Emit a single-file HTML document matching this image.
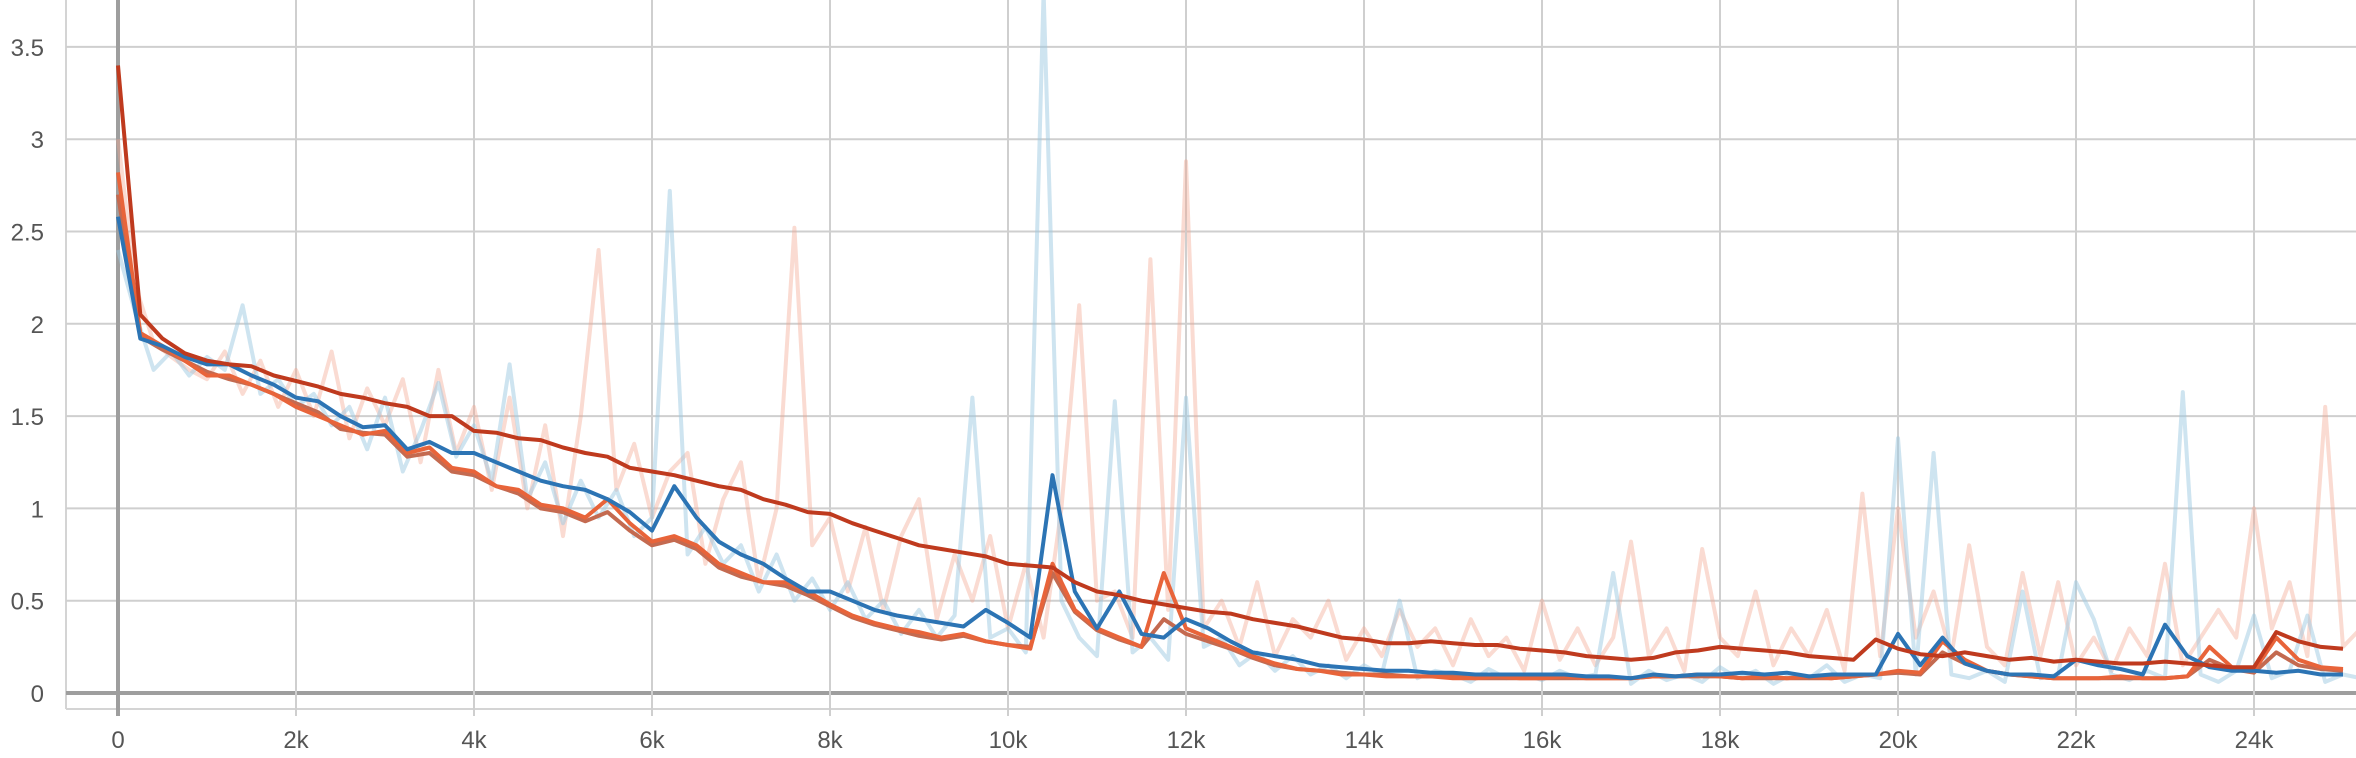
<!DOCTYPE html>
<html><head><meta charset="utf-8">
<style>
html,body{margin:0;padding:0;background:#fff;}
svg{display:block;}
text{font-family:"Liberation Sans",sans-serif;font-size:24px;fill:#555;}
</style></head>
<body>
<svg id="chart" width="2356" height="758" viewBox="0 0 2356 758">
<defs><clipPath id="clip"><rect x="66" y="0" width="2290" height="709"/></clipPath></defs>
<g id="grid"></g>
<g id="ticks"></g>
<g id="series" clip-path="url(#clip)"></g>
</svg>
<script>
const xTicks = [0,2000,4000,6000,8000,10000,12000,14000,16000,18000,20000,22000,24000];
const xTickLabels = ["0","2k","4k","6k","8k","10k","12k","14k","16k","18k","20k","22k","24k"];
const yTicks = [0,0.5,1,1.5,2,2.5,3,3.5];
const yTickLabels = ["0","0.5","1","1.5","2","2.5","3","3.5"];
const smoothStep = 250;
const rawStep = 200;
const darkRed = [3.40,2.05,1.92,1.84,1.80,1.78,1.77,1.72,1.69,1.66,1.62,1.60,1.57,1.55,1.50,1.50,1.42,1.41,1.38,1.37,1.33,1.30,1.28,1.22,1.20,1.18,1.15,1.12,1.10,1.05,1.02,0.98,0.97,0.92,0.88,0.84,0.80,0.78,0.76,0.74,0.70,0.69,0.68,0.60,0.55,0.53,0.50,0.48,0.46,0.44,0.43,0.40,0.38,0.36,0.33,0.30,0.29,0.27,0.27,0.28,0.27,0.26,0.26,0.24,0.23,0.22,0.20,0.19,0.18,0.19,0.22,0.23,0.25,0.24,0.23,0.22,0.20,0.19,0.18,0.29,0.24,0.21,0.20,0.22,0.20,0.18,0.19,0.17,0.18,0.17,0.16,0.16,0.17,0.16,0.15,0.14,0.14,0.33,0.28,0.25,0.24];
const blue = [2.58,1.92,1.88,1.82,1.78,1.78,1.72,1.67,1.60,1.58,1.50,1.44,1.45,1.32,1.36,1.30,1.30,1.25,1.20,1.15,1.12,1.10,1.05,0.98,0.88,1.12,0.95,0.82,0.75,0.70,0.62,0.55,0.55,0.50,0.45,0.42,0.40,0.38,0.36,0.45,0.38,0.30,1.18,0.55,0.35,0.55,0.32,0.30,0.40,0.35,0.28,0.22,0.20,0.18,0.15,0.14,0.13,0.12,0.12,0.11,0.11,0.10,0.10,0.10,0.10,0.10,0.09,0.09,0.08,0.10,0.09,0.10,0.10,0.11,0.10,0.11,0.09,0.10,0.10,0.10,0.32,0.15,0.30,0.16,0.12,0.10,0.10,0.09,0.18,0.15,0.13,0.10,0.37,0.20,0.14,0.12,0.12,0.11,0.12,0.10,0.10];
const orange = [2.82,1.95,1.88,1.80,1.72,1.72,1.67,1.62,1.55,1.50,1.45,1.40,1.42,1.30,1.33,1.22,1.20,1.12,1.10,1.02,1.00,0.95,1.05,0.92,0.82,0.85,0.80,0.70,0.65,0.60,0.60,0.55,0.48,0.42,0.38,0.35,0.33,0.30,0.32,0.28,0.26,0.24,0.70,0.45,0.35,0.30,0.25,0.65,0.35,0.30,0.25,0.20,0.16,0.13,0.12,0.10,0.10,0.09,0.09,0.09,0.08,0.08,0.09,0.08,0.08,0.09,0.08,0.08,0.08,0.09,0.09,0.10,0.09,0.08,0.09,0.08,0.09,0.08,0.09,0.10,0.12,0.11,0.28,0.18,0.12,0.10,0.09,0.08,0.08,0.08,0.09,0.08,0.08,0.09,0.25,0.14,0.12,0.30,0.18,0.14,0.13];
const brown = [2.70,1.93,1.86,1.80,1.74,1.70,1.67,1.62,1.57,1.52,1.43,1.41,1.40,1.28,1.30,1.20,1.18,1.12,1.08,1.00,0.98,0.93,0.98,0.88,0.80,0.83,0.78,0.68,0.63,0.60,0.58,0.53,0.47,0.41,0.37,0.34,0.31,0.29,0.31,0.28,0.26,0.25,0.65,0.44,0.34,0.29,0.25,0.40,0.32,0.28,0.24,0.19,0.15,0.13,0.12,0.11,0.10,0.10,0.09,0.09,0.09,0.08,0.08,0.08,0.08,0.08,0.08,0.08,0.08,0.09,0.09,0.09,0.09,0.08,0.08,0.08,0.08,0.08,0.09,0.10,0.11,0.10,0.22,0.16,0.12,0.10,0.09,0.08,0.08,0.08,0.08,0.08,0.08,0.09,0.18,0.13,0.11,0.22,0.15,0.13,0.12];
const rawBlue = [2.4,2.05,1.75,1.85,1.72,1.82,1.75,2.1,1.62,1.7,1.55,1.62,1.45,1.55,1.32,1.6,1.2,1.42,1.68,1.28,1.45,1.15,1.78,1.05,1.25,0.92,1.15,0.95,1.1,0.85,0.95,2.72,0.75,0.9,0.7,0.8,0.55,0.75,0.5,0.62,0.45,0.6,0.4,0.5,0.32,0.45,0.3,0.42,1.6,0.3,0.35,0.22,3.8,0.5,0.3,0.2,1.58,0.22,0.3,0.18,1.6,0.25,0.3,0.15,0.22,0.12,0.2,0.1,0.15,0.08,0.15,0.1,0.5,0.08,0.12,0.1,0.06,0.13,0.08,0.1,0.07,0.12,0.08,0.1,0.65,0.05,0.12,0.07,0.1,0.06,0.14,0.08,0.12,0.05,0.1,0.08,0.15,0.06,0.1,0.08,1.38,0.1,1.3,0.1,0.08,0.12,0.06,0.55,0.08,0.1,0.6,0.4,0.1,0.07,0.12,0.08,1.63,0.1,0.06,0.12,0.42,0.08,0.12,0.42,0.06,0.1,0.08];
const rawSalmon = [3.0,2.2,1.9,1.82,1.75,1.7,1.85,1.62,1.8,1.55,1.75,1.5,1.85,1.38,1.65,1.45,1.7,1.25,1.75,1.3,1.55,1.1,1.6,1.0,1.45,0.85,1.5,2.4,1.1,1.35,0.95,1.2,1.3,0.7,1.05,1.25,0.6,1.0,2.52,0.8,0.95,0.55,0.9,0.45,0.85,1.05,0.4,0.75,0.5,0.85,0.35,0.7,0.3,1.0,2.1,0.5,0.55,0.3,2.35,0.45,2.88,0.35,0.5,0.25,0.6,0.2,0.4,0.3,0.5,0.18,0.35,0.2,0.45,0.25,0.35,0.15,0.4,0.2,0.3,0.12,0.5,0.18,0.35,0.15,0.3,0.82,0.2,0.35,0.12,0.78,0.3,0.2,0.55,0.15,0.35,0.2,0.45,0.12,1.08,0.2,1.0,0.3,0.55,0.2,0.8,0.25,0.15,0.65,0.2,0.6,0.15,0.3,0.12,0.35,0.2,0.7,0.15,0.3,0.45,0.3,1.0,0.35,0.6,0.2,1.55,0.25,0.35];

const NS='http://www.w3.org/2000/svg';
const X0=118, XPER=178/2000, Y0=693, YPER=92.3/0.5;
function xs(v){return X0+v*XPER;}
function ys(v){return Y0-v*YPER;}
function mk(tag,attrs,parent){const e=document.createElementNS(NS,tag);for(const k in attrs)e.setAttribute(k,attrs[k]);parent.appendChild(e);return e;}
const grid=document.getElementById('grid'), ticks=document.getElementById('ticks'), ser=document.getElementById('series');

mk('line',{x1:66,y1:0,x2:66,y2:709,stroke:'#d4d4d4','stroke-width':2},grid);
mk('line',{x1:66,y1:709,x2:2356,y2:709,stroke:'#d4d4d4','stroke-width':2},grid);
yTicks.forEach((t,i)=>{
  const l=mk('line',{x1:66,y1:ys(t),x2:2356,y2:ys(t),stroke:t===0?'#9e9e9e':'#cfcfcf','stroke-width':t===0?4:2},grid);
  
  
  const tx=mk('text',{x:44,y:ys(t)+9,'text-anchor':'end'},ticks);
  tx.textContent=yTickLabels[i];
  
  
});
xTicks.forEach((t,i)=>{
  const l=mk('line',{x1:xs(t),y1:0,x2:xs(t),y2:716,stroke:t===0?'#9e9e9e':'#cfcfcf','stroke-width':t===0?4:2},grid);
  
  
  const tx=mk('text',{x:xs(t),y:748,'text-anchor':'middle'},ticks);
  tx.textContent=xTickLabels[i];
  
  
});
function draw(arr,step,color,width,op,name){
  const d=arr.map((v,i)=>(i?'L':'M')+xs(i*step).toFixed(1)+','+ys(v).toFixed(1)).join(' ');
  const p=mk('path',{d:d,fill:'none',stroke:color,'stroke-width':width,'stroke-opacity':op,'stroke-linejoin':'round'},ser);
  
  
}
draw(rawSalmon,rawStep,'#f2a58e',4,0.4,'raw-orange-line');
draw(rawBlue,rawStep,'#9ecae1',4,0.5,'raw-blue-line');
draw(brown,smoothStep,'#c46a50',4,1,'brown-line');
draw(orange,smoothStep,'#e8643a',4,1,'orange-line');
draw(blue,smoothStep,'#2c74b4',4,1,'blue-line');
draw(darkRed,smoothStep,'#bf3a1e',4,1,'dark-red-line');
</script>
</body></html>
